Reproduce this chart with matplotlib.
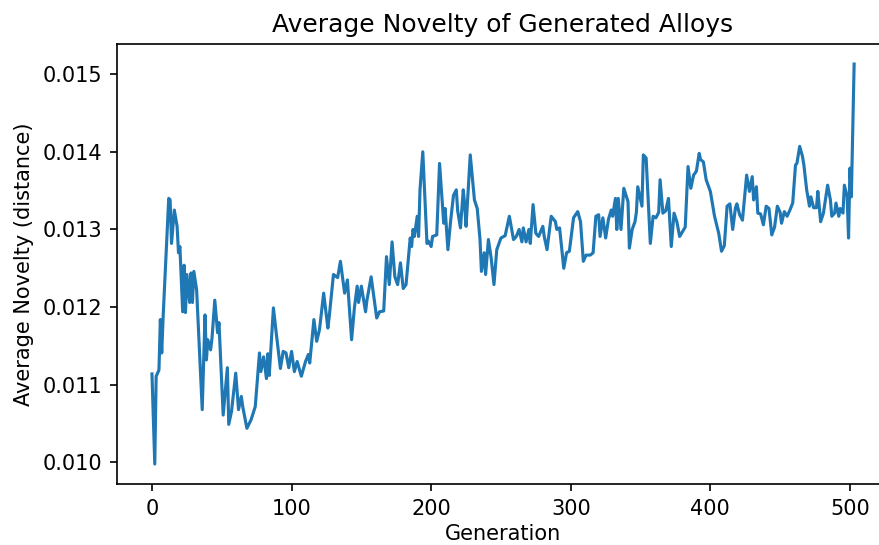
import matplotlib
matplotlib.use("Agg")
import matplotlib.pyplot as plt

# generation index and average novelty of the generated alloys
generation = [
    0, 2, 3, 5, 6, 7, 8, 12, 13, 14, 16, 18, 19, 20, 22, 23, 24, 25, 27, 28,
    29, 30, 32, 36, 38, 39, 40, 42, 43, 45, 47, 48, 51, 54, 55, 57, 60, 62, 64, 65,
    68, 71, 74, 77, 78, 80, 82, 83, 84, 87, 89, 92, 94, 96, 98, 100, 102, 104, 107, 110,
    112, 113, 116, 118, 120, 123, 126, 127, 130, 133, 135, 138, 140, 141, 143, 145, 147, 148, 150, 153,
    154, 157, 159, 161, 163, 166, 168, 170, 172, 174, 176, 178, 180, 182, 185, 186, 187, 188, 190, 191,
    192, 194, 197, 198, 200, 201, 204, 206, 209, 210, 212, 214, 216, 218, 219, 221, 223, 224, 225, 228,
    231, 233, 235, 236, 238, 239, 241, 243, 245, 247, 250, 253, 256, 259, 261, 263, 265, 266, 268, 270,
    271, 273, 275, 277, 280, 281, 283, 286, 289, 290, 292, 295, 297, 299, 302, 305, 307, 309, 311, 314,
    316, 318, 320, 321, 323, 325, 327, 329, 330, 332, 333, 334, 336, 338, 341, 342, 344, 346, 347, 348,
    351, 352, 354, 355, 357, 359, 361, 363, 364, 366, 368, 370, 372, 374, 376, 378, 381, 382, 384, 386,
    388, 390, 392, 393, 395, 397, 400, 403, 406, 408, 410, 412, 414, 416, 418, 419, 421, 423, 426, 428,
    430, 431, 433, 434, 436, 438, 440, 442, 444, 446, 448, 450, 451, 453, 455, 457, 459, 461, 462, 464,
    466, 467, 469, 471, 472, 474, 476, 477, 479, 481, 484, 486, 487, 489, 490, 492, 493, 495, 496, 498,
    499, 500, 501, 503,
]
novelty = [
    0.01114, 0.00998, 0.01111, 0.01119, 0.01184, 0.01141, 0.01188, 0.01340, 0.01338, 0.01282,
    0.01325, 0.01304, 0.01270, 0.01278, 0.01194, 0.01254, 0.01193, 0.01242, 0.01206, 0.01244,
    0.01206, 0.01246, 0.01222, 0.01068, 0.01190, 0.01132, 0.01158, 0.01145, 0.01160, 0.01209,
    0.01167, 0.01180, 0.01061, 0.01122, 0.01049, 0.01066, 0.01115, 0.01068, 0.01085, 0.01072,
    0.01044, 0.01055, 0.01072, 0.01141, 0.01117, 0.01136, 0.01108, 0.01140, 0.01112, 0.01199,
    0.01167, 0.01121, 0.01143, 0.01141, 0.01122, 0.01143, 0.01117, 0.01130, 0.01111, 0.01130,
    0.01139, 0.01128, 0.01184, 0.01156, 0.01171, 0.01218, 0.01173, 0.01188, 0.01242, 0.01238,
    0.01259, 0.01218, 0.01235, 0.01209, 0.01158, 0.01199, 0.01227, 0.01206, 0.01227, 0.01194,
    0.01209, 0.01239, 0.01212, 0.01186, 0.01194, 0.01195, 0.01265, 0.01229, 0.01284, 0.01239,
    0.01229, 0.01257, 0.01224, 0.01229, 0.01289, 0.01278, 0.01300, 0.01291, 0.01317, 0.01291,
    0.01351, 0.01400, 0.01282, 0.01285, 0.01278, 0.01291, 0.01293, 0.01385, 0.01308, 0.01327,
    0.01274, 0.01312, 0.01344, 0.01351, 0.01324, 0.01302, 0.01351, 0.01332, 0.01304, 0.01396,
    0.01338, 0.01327, 0.01287, 0.01246, 0.01270, 0.01242, 0.01287, 0.01263, 0.01229, 0.01274,
    0.01289, 0.01292, 0.01317, 0.01287, 0.01291, 0.01300, 0.01284, 0.01302, 0.01284, 0.01300,
    0.01282, 0.01332, 0.01295, 0.01291, 0.01304, 0.01291, 0.01274, 0.01317, 0.01310, 0.01300,
    0.01302, 0.01250, 0.01270, 0.01272, 0.01315, 0.01323, 0.01310, 0.01259, 0.01267, 0.01267,
    0.01270, 0.01317, 0.01319, 0.01291, 0.01315, 0.01289, 0.01313, 0.01325, 0.01317, 0.01340,
    0.01300, 0.01340, 0.01300, 0.01353, 0.01336, 0.01276, 0.01300, 0.01310, 0.01322, 0.01355,
    0.01330, 0.01396, 0.01392, 0.01355, 0.01282, 0.01317, 0.01315, 0.01322, 0.01364, 0.01321,
    0.01324, 0.01340, 0.01278, 0.01321, 0.01310, 0.01291, 0.01300, 0.01303, 0.01381, 0.01353,
    0.01370, 0.01375, 0.01398, 0.01390, 0.01387, 0.01364, 0.01349, 0.01317, 0.01295, 0.01272,
    0.01279, 0.01330, 0.01333, 0.01300, 0.01328, 0.01333, 0.01319, 0.01312, 0.01370, 0.01349,
    0.01368, 0.01338, 0.01355, 0.01321, 0.01320, 0.01306, 0.01330, 0.01327, 0.01293, 0.01303,
    0.01330, 0.01322, 0.01308, 0.01323, 0.01317, 0.01325, 0.01334, 0.01383, 0.01385, 0.01407,
    0.01394, 0.01383, 0.01351, 0.01330, 0.01342, 0.01328, 0.01328, 0.01349, 0.01310, 0.01321,
    0.01357, 0.01338, 0.01317, 0.01321, 0.01334, 0.01317, 0.01327, 0.01321, 0.01357, 0.01342,
    0.01289, 0.01379, 0.01342, 0.01513,
]

fig = plt.figure(figsize=(880 / 150, 545 / 150), dpi=150)
ax = fig.add_axes([0.1328, 0.1119, 0.8777, 0.8073])

ax.plot(generation, novelty)

ax.set_title("Average Novelty of Generated Alloys")
ax.set_xlabel("Generation", labelpad=2.5)
ax.set_ylabel("Average Novelty (distance)")
ax.set_xticks([0, 100, 200, 300, 400, 500])
ax.set_yticks([0.010, 0.011, 0.012, 0.013, 0.014, 0.015])

plt.savefig("out.png", dpi=150)
